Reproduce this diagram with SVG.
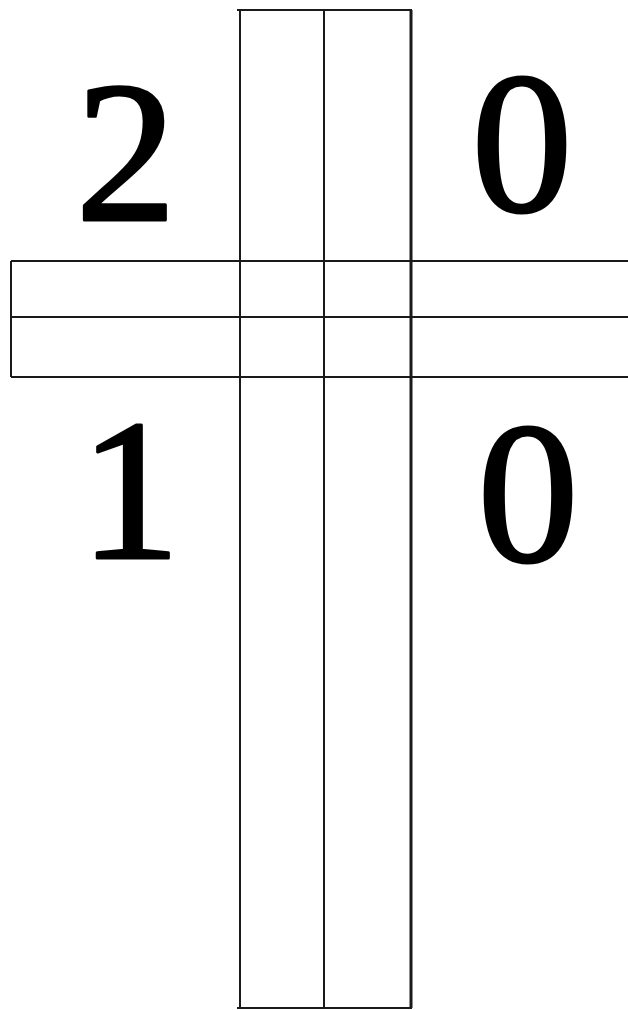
<svg xmlns="http://www.w3.org/2000/svg" width="628" height="1010" viewBox="0 0 628 1010">
<style>
.ln{stroke:#1a1a1a;stroke-width:2;fill:none}
.thick{stroke-width:3}
.num{font-family:"Liberation Serif","Times New Roman",serif;font-size:202px;fill:#000;stroke:#000;stroke-width:3;stroke-linejoin:round;text-anchor:middle}
</style>
<rect width="628" height="1010" fill="#fff"/>
<g id="vertical-bar">
<line class="ln" x1="237" y1="10" x2="412" y2="10"/>
<line class="ln" x1="237" y1="1008" x2="412" y2="1008"/>
<line class="ln" x1="240" y1="10" x2="240" y2="1008"/>
<line class="ln" x1="324" y1="10" x2="324" y2="1008"/>
<line class="ln thick" x1="411" y1="10" x2="411" y2="1008"/>
</g>
<g id="horizontal-bar">
<line class="ln" x1="11" y1="261" x2="628" y2="261"/>
<line class="ln" x1="11" y1="317" x2="628" y2="317"/>
<line class="ln" x1="11" y1="377" x2="628" y2="377"/>
<line class="ln" x1="11" y1="261" x2="11" y2="377"/>
</g>
<g id="digits">
<text class="num" x="126" y="220">2</text>
<text class="num" x="522" y="211">0</text>
<text class="num" x="130" y="558">1</text>
<text class="num" x="528" y="561">0</text>
</g>
</svg>
